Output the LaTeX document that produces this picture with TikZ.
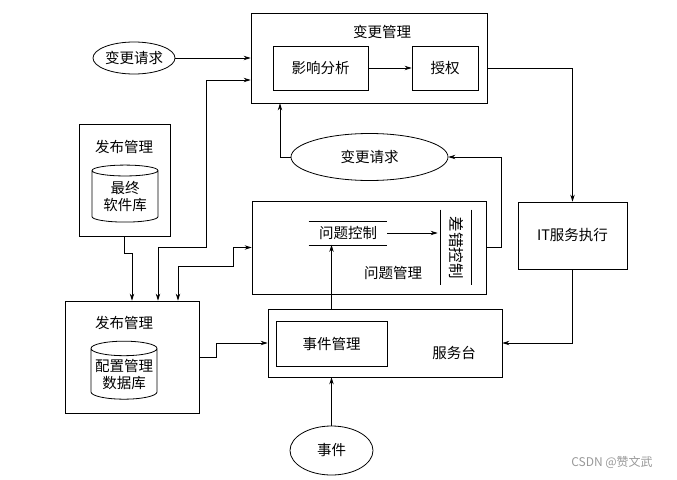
\documentclass[tikz,border=0pt]{standalone}
\usepackage{fontspec}
\setmainfont{Noto Sans CJK SC}
\usetikzlibrary{arrows.meta,shapes.geometric}

\begin{document}
\begin{tikzpicture}[x=1pt,y=-1pt,
    font=\fontsize{14.5}{17}\selectfont, line width=0.8pt,
    box/.style={draw,inner sep=0pt},
    oval/.style={draw,ellipse,inner sep=0pt},
    db/.style={draw,cylinder,shape border rotate=90,aspect=0.25,inner sep=0pt,align=center},
    arr/.style={-{Stealth[length=7pt,width=4.5pt]}},
    darr/.style={{Stealth[length=7pt,width=4.5pt]}-{Stealth[length=7pt,width=4.5pt]}}]
  \useasboundingbox (0,0) rectangle (677,479);

  \node[box,minimum width=236,minimum height=90] (cm) at (369,58) {};
  \node (cmt) at (382,32) {变更管理};
  \node[box,minimum width=95,minimum height=44] (ia) at (320.5,68) {影响分析};
  \node[box,minimum width=66,minimum height=44] (auth) at (445,68) {授权};
  \node[oval,minimum width=81,minimum height=32] (req1) at (134,58) {变更请求};

  \node[box,minimum width=91,minimum height=112] (rm1) at (124.5,180) {};
  \node (rm1t) at (124,147) {发布管理};
  \node[db,minimum width=66,minimum height=57] (lib1) at (125,196.5) {最终\\软件库};

  \node[oval,minimum width=157,minimum height=47] (req2) at (369.5,157) {变更请求};

  \node[box,minimum width=234,minimum height=93] (pm) at (369,247.5) {};
  \node[minimum width=78,minimum height=23,inner sep=0pt] (pc) at (348,233) {问题控制};
  \draw (pc.north west) -- (pc.north east) (pc.south west) -- (pc.south east);
  \node[rotate=-90,minimum width=75,minimum height=30,inner sep=0pt,font=\fontsize{15.5}{17}\selectfont] (ec) at (456,247.5) {差错控制};
  \draw (ec.north west) -- (ec.north east) (ec.south west) -- (ec.south east);
  \node (pmt) at (393,273) {问题管理};

  \node[box,minimum width=109,minimum height=67] (it) at (572.5,235.5) {IT服务执行};

  \node[box,minimum width=234,minimum height=68] (sd) at (385,343) {};
  \node[box,minimum width=111,minimum height=45] (im) at (331.5,343.5) {事件管理};
  \node (sdt) at (454,353) {服务台};
  \node[oval,minimum width=83,minimum height=49] (ev) at (331.5,450.5) {事件};

  \node[box,minimum width=134,minimum height=112] (rm2) at (132,357) {};
  \node (rm2t) at (124,323) {发布管理};
  \node[db,minimum width=66,minimum height=58] (lib2) at (124,374) {配置管理\\数据库};

  \node[text=gray!80,font=\fontsize{12}{14}\selectfont] (mark) at (612,462) {CSDN @赞文武};

  \draw[arr] (req1.east) -- (cm.west |- req1.east);
  \draw[arr] (ia) -- (auth);
  \draw[arr] (cm.east |- auth) -| (it.north);
  \draw[arr] (it.south) |- (sd.east);
  \draw[arr] (ev.north) -- (ev.north |- sd.south);
  \draw[arr] (ev.north |- sd.north) -- (ev.north |- pc.south);
  \draw[arr,shorten >=3pt] (pc.east) -- (pc.east -| ec.south);
  \draw[arr] (pm.east) -- ++(15,0) |- (req2.east);
  \draw[arr] (req2.west) -| (cm.south -| 280,0);
  \draw[arr] (rm1.south) -- ++(0,17) -| (rm2.north);
  \draw[darr] (rm2.north -| 158,0) |- (206,247) |- (cm.west |- 0,80);
  \draw[darr] (rm2.north -| 178,0) |- (233,266) |- (pm.west);
  \draw[arr] (rm2.east) -- ++(17,0) |- (sd.west);
\end{tikzpicture}
\end{document}
